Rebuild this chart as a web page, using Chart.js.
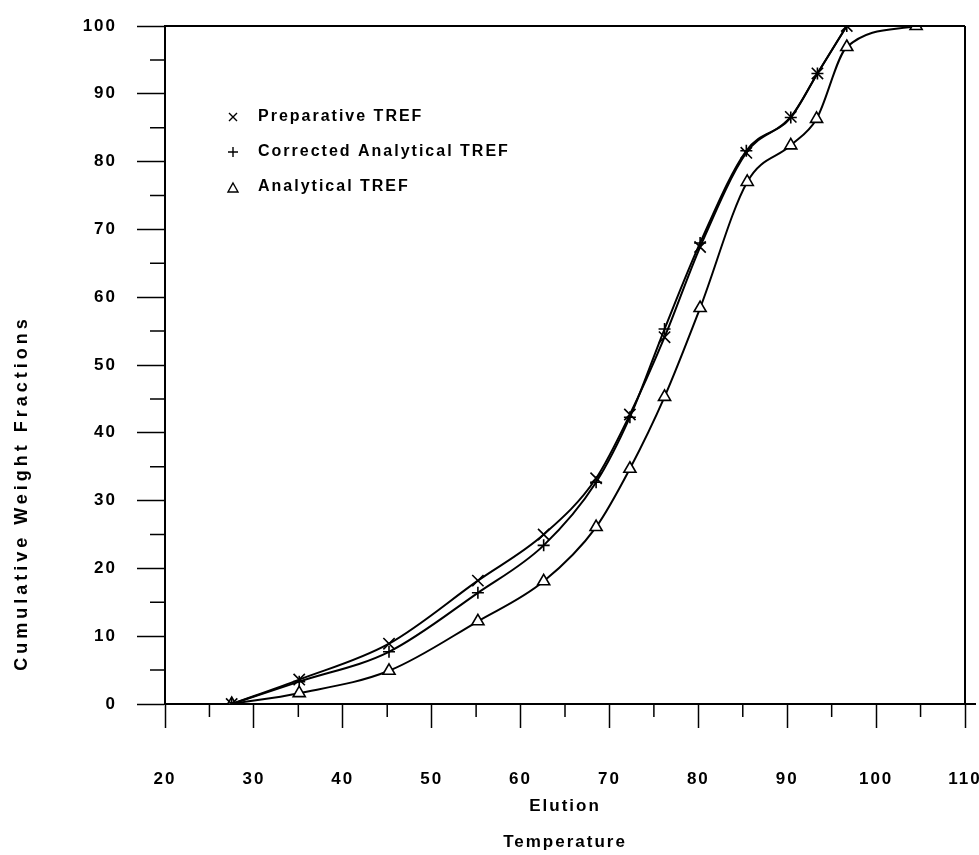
<!DOCTYPE html>
<html>
<head>
<meta charset="utf-8">
<script src="https://cdn.jsdelivr.net/npm/chart.js@4/dist/chart.umd.min.js"></script>
<style>
  html, body { margin: 0; padding: 0; background: #fff; }
  #wrap { width: 979px; height: 855px; }
</style>
</head>
<body>
<div id="wrap"><canvas id="trefChart" width="979" height="855"></canvas></div>
<script>
// elution temperatures (x) and cumulative weight fractions (y)
var temps = [27.5, 35.1, 45.2, 55.2, 62.6, 68.5, 72.3, 76.2, 80.2, 85.4, 90.4, 93.4, 96.7];
var prepTref = [0, 3.6, 8.9, 18.2, 25.0, 33.3, 42.7, 54.1, 67.4, 81.3, 86.6, 93.0, 100];
var corrTref = [0, 3.3, 7.7, 16.4, 23.4, 32.7, 42.3, 55.3, 68.0, 81.6, 86.5, 93.0, 100];
var analTemps = [27.5, 35.1, 45.2, 55.2, 62.6, 68.5, 72.3, 76.2, 80.2, 85.5, 90.4, 93.3, 96.7, 104.5];
var analTref = [0, 1.6, 4.9, 12.2, 18.1, 26.1, 34.7, 45.3, 58.4, 77.0, 82.4, 86.3, 96.9, 100];
var seriesNames = ['Preparative TREF', 'Corrected Analytical TREF', 'Analytical TREF'];
var xTicks = [20, 30, 40, 50, 60, 70, 80, 90, 100, 110];
var yTicks = [0, 10, 20, 30, 40, 50, 60, 70, 80, 90, 100];
var xTitle = ['Elution', 'Temperature'];
var yTitle = 'Cumulative Weight Fractions';

function pairs(xs, ys) {
  return xs.map(function (x, i) { return { x: x, y: ys[i] }; });
}

var FONT = '"Liberation Sans", Arial, sans-serif';

var spacing = {
  id: 'spacing',
  beforeUpdate: function (chart) { chart.ctx.letterSpacing = '2px'; },
  beforeDraw: function (chart) { chart.ctx.letterSpacing = '2px'; }
};

// frame, minor ticks, y title and legend
var extras = {
  id: 'extras',
  afterDraw: function (chart) {
    var ctx = chart.ctx;
    var a = chart.chartArea;
    var xs = chart.scales.x, ys = chart.scales.y;
    ctx.save();
    ctx.strokeStyle = '#000';
    ctx.lineWidth = 2;
    ctx.beginPath();
    ctx.moveTo(a.left, a.top); ctx.lineTo(a.right, a.top);
    ctx.moveTo(a.right, a.top); ctx.lineTo(a.right, a.bottom);
    ctx.moveTo(a.right, a.bottom); ctx.lineTo(chart.width - 3, a.bottom);
    ctx.stroke();

    ctx.lineWidth = 1.5;
    ctx.beginPath();
    for (var v = 25; v < 110; v += 10) {
      var px = xs.getPixelForValue(v);
      ctx.moveTo(px, a.bottom); ctx.lineTo(px, a.bottom + 13);
    }
    for (var w = 5; w < 100; w += 10) {
      var py = ys.getPixelForValue(w);
      ctx.moveTo(a.left - 15, py); ctx.lineTo(a.left, py);
    }
    ctx.stroke();

    ctx.letterSpacing = '4px';
    ctx.fillStyle = '#000';
    ctx.font = 'bold 18px ' + FONT;
    ctx.translate(22, 493);
    ctx.rotate(-Math.PI / 2);
    ctx.textAlign = 'center';
    ctx.textBaseline = 'middle';
    ctx.fillText(yTitle, 0, 0);
    ctx.restore();

    ctx.save();
    ctx.letterSpacing = '2px';
    ctx.fillStyle = '#000';
    ctx.strokeStyle = '#000';
    ctx.lineWidth = 1.4;
    ctx.font = 'bold 16px ' + FONT;
    ctx.textBaseline = 'middle';
    chart.data.datasets.forEach(function (ds, i) {
      var mx = a.left + 68, my = a.top + 91 + i * 35;
      ctx.beginPath();
      if (ds.pointStyle === 'crossRot') {
        ctx.moveTo(mx - 4, my - 4); ctx.lineTo(mx + 4, my + 4);
        ctx.moveTo(mx + 4, my - 4); ctx.lineTo(mx - 4, my + 4);
      } else if (ds.pointStyle === 'cross') {
        ctx.moveTo(mx - 5, my); ctx.lineTo(mx + 5, my);
        ctx.moveTo(mx, my - 5); ctx.lineTo(mx, my + 5);
      } else {
        ctx.moveTo(mx, my - 4); ctx.lineTo(mx + 5, my + 5); ctx.lineTo(mx - 5, my + 5); ctx.closePath();
      }
      ctx.stroke();
      ctx.fillText(ds.label, a.left + 93, my);
    });
    ctx.restore();
  }
};

var ctx = document.getElementById('trefChart').getContext('2d');
var chart = new Chart(ctx, {
  type: 'line',
  data: {
    datasets: [{
      label: seriesNames[0],
      data: pairs(temps, prepTref),
      pointStyle: 'crossRot',
      pointRadius: 8,
      pointBorderWidth: 1.6
    }, {
      label: seriesNames[1],
      data: pairs(temps, corrTref),
      pointStyle: 'cross',
      pointRadius: 6,
      pointBorderWidth: 1.6
    }, {
      label: seriesNames[2],
      data: pairs(analTemps, analTref),
      pointStyle: 'triangle',
      pointRadius: 7,
      pointBorderWidth: 1.6,
      pointBackgroundColor: '#fff'
    }].map(function (d) {
      d.borderColor = '#000';
      d.backgroundColor = '#000';
      d.pointBorderColor = '#000';
      if (!d.pointBackgroundColor) d.pointBackgroundColor = '#000';
      d.borderWidth = 2;
      d.fill = false;
      d.cubicInterpolationMode = 'monotone';
      return d;
    })
  },
  options: {
    responsive: false,
    animation: false,
    devicePixelRatio: 1,
    layout: { padding: { top: 26, right: 14, left: 0, bottom: 0 } },
    plugins: { legend: { display: false }, tooltip: { enabled: false } },
    scales: {
      x: {
        type: 'linear',
        min: 20, max: 110,
        afterBuildTicks: function (s) { s.ticks = xTicks.map(function (v) { return { value: v }; }); },
        afterFit: function (s) { s.height = 151; s.paddingLeft = 0; s.paddingRight = 0; },
        ticks: { color: '#000', padding: 41, maxRotation: 0, font: { family: FONT, size: 17, weight: 'bold' } },
        grid: { drawOnChartArea: false, tickLength: 24, tickColor: '#000', tickWidth: 1.5 },
        border: { color: '#000', width: 2 },
        title: {
          display: true, text: xTitle, color: '#000',
          font: { family: FONT, size: 17, weight: 'bold', lineHeight: '36px' },
          padding: { top: 0, bottom: -5 }
        }
      },
      y: {
        type: 'linear',
        min: 0, max: 100,
        afterBuildTicks: function (s) { s.ticks = yTicks.map(function (v) { return { value: v }; }); },
        afterFit: function (s) { s.width = 165; s.paddingTop = 0; s.paddingBottom = 0; },
        ticks: { color: '#000', padding: 20, font: { family: FONT, size: 17, weight: 'bold' } },
        grid: { drawOnChartArea: false, tickLength: 28, tickColor: '#000', tickWidth: 1.5 },
        border: { color: '#000', width: 2 }
      }
    }
  },
  plugins: [spacing, extras]
});
</script>
</body>
</html>
